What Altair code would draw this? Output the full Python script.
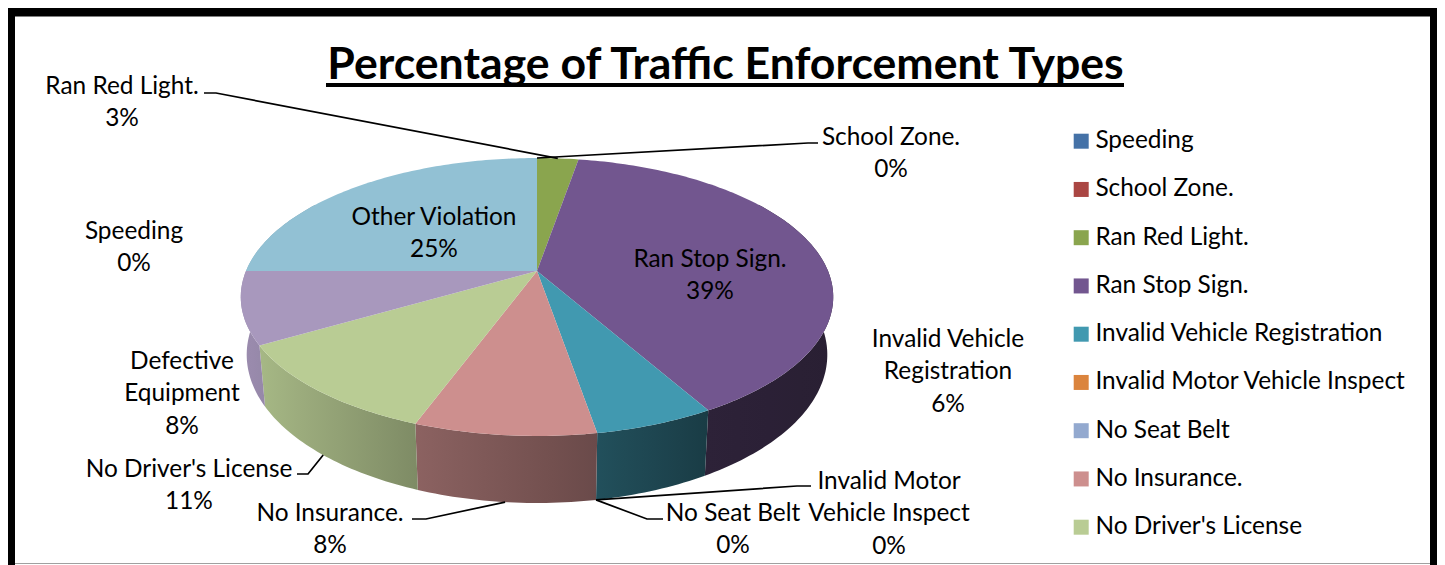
import math
import altair as alt

# ---- values (percent of total, clockwise from 12 o'clock)
CATEGORIES = ["Speeding", "School Zone.", "Ran Red Light.", "Ran Stop Sign.",
              "Invalid Vehicle Registration", "Invalid Motor Vehicle Inspect",
              "No Seat Belt", "No Insurance.", "No Driver's License",
              "Defective Equipment", "Other Violation"]
SHARES = [0, 0, 2.7, 39.1, 5.5, 0, 0, 8.3, 11.0, 8.4, 25.0]
LEGEND_ENTRIES = CATEGORIES[:9]
COLORS = ["#4572a7", "#aa4643", "#8aa54e", "#72568f", "#4199b0", "#db843d",
          "#93a9cf", "#cd8f8e", "#b9cc94", "#a898bd", "#92c1d4"]
TITLE = "Percentage of Traffic Enforcement Types"

# ---- layout (reference-picture pixels)
FONT = "Lato"
FS = 24.4
W, H = 1429, 557
OX, OY = 8, 8
CX, CY, RX = 537, 271, 291
PA, PB = 134.1, -0.187
DEPTH_Y, DEPTH_SY, DEPTH_SX = 56, 1.067, 0.98
SHADE_X = [245, 417, 596, 650, 708, 830]
SHADE_F = [0.92, 0.68, 0.52, 0.46, 0.39, 0.36]
TEXT_DY = 2

LABEL_LINES = {
    "Ran Red Light.": (122, 85, ["Ran Red Light."]),
    "School Zone.": (891, 136, ["School Zone."]),
    "Speeding": (134, 230, ["Speeding"]),
    "Other Violation": (434, 216, ["Other Violation"]),
    "Ran Stop Sign.": (710, 258, ["Ran Stop Sign."]),
    "Invalid Vehicle Registration": (948, 338, ["Invalid Vehicle", "Registration"]),
    "Defective Equipment": (182, 360, ["Defective", "Equipment"]),
    "No Driver's License": (189, 468, ["No Driver's License"]),
    "No Insurance.": (330, 512, ["No Insurance."]),
    "No Seat Belt": (733, 512, ["No Seat Belt"]),
    "Invalid Motor Vehicle Inspect": (889, 480, ["Invalid Motor", "Vehicle Inspect"]),
}
LINE_GAP = 32.3
# leader: outer end, elbow, which rim it touches
LEADERS = {
    "Ran Red Light.": ((204, 93), (216, 93), "top"),
    "School Zone.": ((818, 143), (808, 143), "top"),
    "No Insurance.": ((412, 519), (426, 519), "bottom"),
    "No Driver's License": ((297, 474), (308, 474), "bottom"),
    "No Seat Belt": ((663, 519), (647, 519), "bottom"),
    "Invalid Motor Vehicle Inspect": ((811, 486), (797, 486), "bottom"),
}


def top_pt(theta):
    u, v = math.sin(theta), -math.cos(theta)
    d = 1 + PB * v
    return CX + RX * u / d, CY + PA * v / d


def bottom_pt(theta):
    x, y = top_pt(theta)
    return CX + DEPTH_SX * (x - CX), CY + DEPTH_Y + DEPTH_SY * (y - CY)


def shade(hex_color, f):
    r, g, b = (int(hex_color[i:i + 2], 16) for i in (1, 3, 5))
    return "#%02x%02x%02x" % (round(r * f), round(g * f), round(b * f))


def shade_factor(x):
    if x <= SHADE_X[0]:
        return SHADE_F[0]
    for i in range(len(SHADE_X) - 1):
        if x <= SHADE_X[i + 1]:
            t = (x - SHADE_X[i]) / (SHADE_X[i + 1] - SHADE_X[i])
            return SHADE_F[i] + t * (SHADE_F[i + 1] - SHADE_F[i])
    return SHADE_F[-1]


total = sum(SHARES)
starts, cum = {}, 0.0
top_features, side_layers = [], []
PROJ = dict(type="identity", scale=1, translate=[-OX, -OY])
for name, share, col in zip(CATEGORIES, SHARES, COLORS):
    a0 = cum / total * 2 * math.pi
    a1 = (cum + share) / total * 2 * math.pi
    starts[name] = (a0, a1)
    cum += share
    if share == 0:
        continue
    n = max(2, int(share * 3.6))
    thetas = [a0 + (a1 - a0) * i / n for i in range(n + 1)]
    ring = [[CX, CY]] + [list(top_pt(t)) for t in thetas] + [[CX, CY]]
    top_features.append({"type": "Feature", "properties": {"category": name},
                         "geometry": {"type": "Polygon", "coordinates": [ring]}})
    front = [t for t in thetas if math.cos(t) < 0.55]
    if len(front) < 2:
        continue
    poly = [list(top_pt(t)) for t in front] + [list(bottom_pt(t)) for t in reversed(front)]
    poly.append(poly[0])
    xs = [p[0] for p in poly]
    x0, x1 = min(xs), max(xs)
    stops = [alt.GradientStop(color=shade(col, shade_factor(x0 + (x1 - x0) * k / 4)), offset=k / 4)
             for k in range(5)]
    feature = {"type": "Feature", "properties": {"category": name},
               "geometry": {"type": "Polygon", "coordinates": [poly]}}
    side_layers.append(
        alt.Chart(alt.InlineData(values=[feature])).mark_geoshape(
            fill=alt.Gradient(gradient="linear", stops=stops, x1=0, x2=1, y1=0, y2=0),
            strokeWidth=0,
        ).project(**PROJ)
    )

label_rows = []
for name, share in zip(CATEGORIES, SHARES):
    x, y, lines = LABEL_LINES[name]
    for i, line in enumerate(lines + ["%d%%" % round(share)]):
        label_rows.append({"x": x, "y": y + i * LINE_GAP + TEXT_DY, "text": line})

leader_rows = []
for name, (outer, elbow, rim) in LEADERS.items():
    a0, a1 = starts[name]
    mid = (a0 + a1) / 2
    inner = top_pt(mid) if rim == "top" else bottom_pt(mid)
    for i, p in enumerate([outer, elbow, inner]):
        leader_rows.append({"name": name, "i": i, "x": p[0], "y": p[1]})

X_SCALE = alt.Scale(domain=[OX, OX + W], range=[0, W])
Y_SCALE = alt.Scale(domain=[OY, OY + H], range=[0, H])

tops = alt.Chart(alt.InlineData(values=top_features)).mark_geoshape(strokeWidth=0).encode(
    color=alt.Color(
        "properties.category:N",
        scale=alt.Scale(domain=CATEGORIES, range=COLORS),
        legend=alt.Legend(
            values=LEGEND_ENTRIES, title=None, orient="none", legendX=1061, legendY=121,
            symbolType="square", symbolSize=225, symbolStrokeWidth=0, labelFont=FONT,
            labelFontSize=FS, labelColor="black", labelLimit=400, rowPadding=23.25,
            labelOffset=2, padding=0, symbolOpacity=1,
        ),
    )
).project(**PROJ)

leaders = alt.Chart(alt.Data(values=leader_rows)).mark_line(color="black", strokeWidth=1.7).encode(
    x=alt.X("x:Q", scale=X_SCALE, axis=None),
    y=alt.Y("y:Q", scale=Y_SCALE, axis=None),
    detail="name:N",
    order="i:Q",
)

labels = alt.Chart(alt.Data(values=label_rows)).mark_text(
    font=FONT, fontSize=FS, color="black", align="center", baseline="middle"
).encode(
    x=alt.X("x:Q", scale=X_SCALE, axis=None),
    y=alt.Y("y:Q", scale=Y_SCALE, axis=None),
    text="text:N",
)

title_text = alt.Chart(alt.Data(values=[{"t": TITLE}])).mark_text(
    font=FONT, fontSize=44.6, fontWeight="bold", color="black", align="center", baseline="middle"
).encode(x=alt.value(725.5 - OX), y=alt.value(66 - OY), text="t:N")

title_rule = alt.Chart(alt.Data(values=[{"a": 1}])).mark_rect(color="black").encode(
    x=alt.value(326 - OX), x2=alt.value(1124 - OX), y=alt.value(83 - OY), y2=alt.value(87 - OY)
)


def frame(x0, x1, y0, y1, col="black"):
    return alt.Chart(alt.Data(values=[{"a": 1}])).mark_rect(color=col).encode(
        x=alt.value(x0), x2=alt.value(x1), y=alt.value(y0), y2=alt.value(y1)
    )


chart = alt.layer(
    frame(15 - OX, 1430 - OX, 563 - OY, 564 - OY, "#a0a0a0"),
    frame(0, 7, 0, H),
    frame(1430 - OX, W, 0, H),
    frame(0, W, 0, 8.5),
    *side_layers, tops, leaders, title_text, title_rule, labels,
).properties(
    width=W, height=H, padding=0, background="white"
).configure_view(stroke=None)

chart.save("out.html", embed_options={"renderer": "svg", "actions": False})
